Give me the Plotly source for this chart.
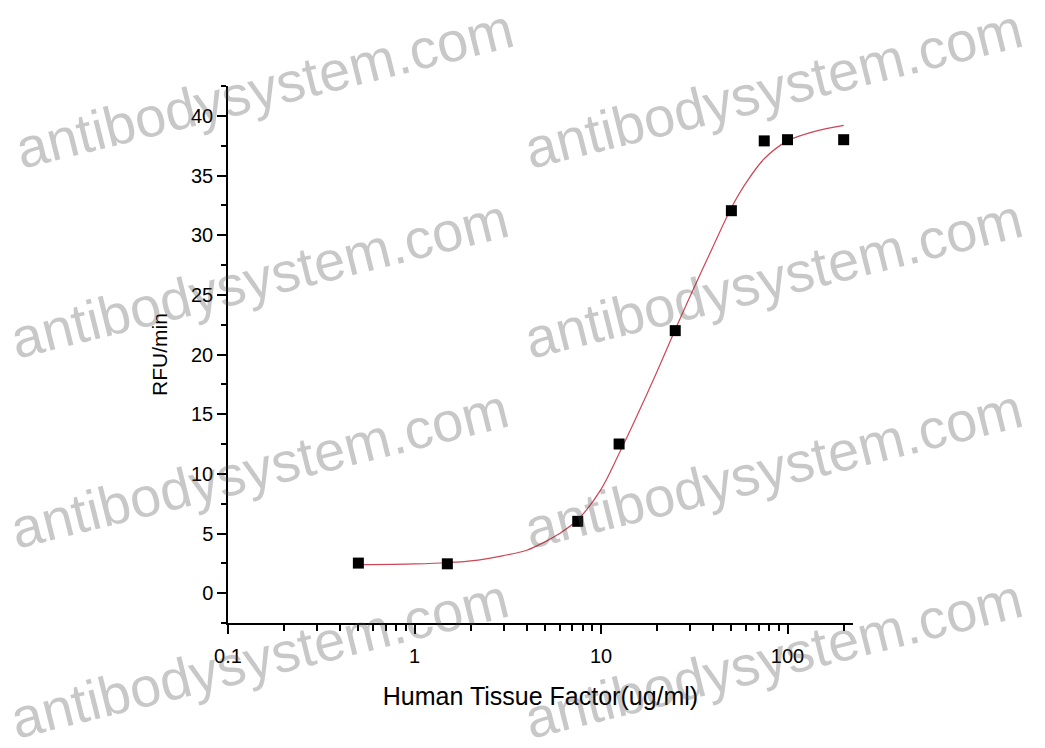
import plotly.graph_objects as go

# Measured data points
conc = [0.5, 1.5, 7.5, 12.5, 25, 50, 75, 100, 200]
rfu = [2.52, 2.46, 6.02, 12.5, 22.0, 32.05, 37.9, 38.0, 38.0]

# Fitted curve
fit_x = [0.5, 1.0, 1.5, 2.0, 3.0, 4.0, 5.0, 6.0, 7.5, 10, 12.5, 15, 20, 25, 30, 40, 50, 60, 75, 100, 140, 200]
fit_y = [2.38, 2.45, 2.55, 2.7, 3.15, 3.6, 4.3, 5.0, 6.15, 8.7, 11.7, 14.3, 18.6, 22.1, 24.85, 29.1, 32.3, 34.4, 36.4, 37.9, 38.7, 39.2]

x_major = [0.1, 1, 10, 100]
x_major_text = ["0.1", "1", "10", "100"]
x_minor = [0.2, 0.3, 0.4, 0.5, 0.6, 0.7, 0.8, 0.9,
           2, 3, 4, 5, 6, 7, 8, 9,
           20, 30, 40, 50, 60, 70, 80, 90, 200]

watermark = "antibodysystem.com"
wm_centers_px = [(264, 88), (773, 88), (259, 278), (773, 278),
                 (259, 468), (773, 468), (259, 658), (773, 658)]

W, H = 1045, 748
OFF = 8  # page body margin in the browser
L, R, T, B = 228 - OFF, 192 + OFF, 86 - OFF, 125 + OFF
PW, PH = W - L - R, H - T - B

FONT = "Liberation Sans, Arial, Helvetica, sans-serif"

fig = go.Figure()
fig.add_trace(go.Scatter(x=fit_x, y=fit_y, mode="lines",
                         line=dict(color="#cc4655", width=1.2, shape="spline", smoothing=0.9),
                         showlegend=False, hoverinfo="skip"))
fig.add_trace(go.Scatter(x=conc, y=rfu, mode="markers",
                         marker=dict(symbol="square", size=11, color="black"),
                         showlegend=False))

annotations = []
for cx, cy in wm_centers_px:
    cx -= OFF
    cy -= OFF
    annotations.append(dict(text=watermark, xref="paper", yref="paper",
                            x=(cx - L) / PW, y=(H - B - cy) / PH,
                            xanchor="center", yanchor="middle",
                            textangle=-14, showarrow=False,
                            font=dict(family=FONT, size=56, color="rgba(72,72,72,0.3)")))

fig.update_layout(
    width=W, height=H,
    margin=dict(l=L, r=R, t=T, b=B, pad=0),
    paper_bgcolor="white", plot_bgcolor="white",
    font=dict(family=FONT, color="black", size=20),
    annotations=annotations,
    xaxis=dict(type="log", range=[-1, 2.351],
               tickmode="array", tickvals=x_major, ticktext=x_major_text,
               ticks="outside", ticklen=9, tickwidth=1.5, tickcolor="black",
               showline=True, linecolor="black", linewidth=1.5,
               showgrid=False, zeroline=False,
               tickfont=dict(size=20), ticklabelstandoff=5,
               minor=dict(tickmode="array", tickvals=x_minor, ticks="outside",
                          ticklen=6, tickwidth=1.5, tickcolor="black", showgrid=False),
               title=dict(text="Human Tissue Factor(ug/ml)", font=dict(size=25), standoff=22)),
    yaxis=dict(range=[-2.5, 42.5], tickmode="linear", tick0=0, dtick=5,
               ticks="outside", ticklen=9, tickwidth=1.5, tickcolor="black",
               showline=True, linecolor="black", linewidth=1.5,
               showgrid=False, zeroline=False,
               tickfont=dict(size=20),
               minor=dict(dtick=2.5, tick0=0, ticks="outside", ticklen=5,
                          tickwidth=1.5, tickcolor="black", showgrid=False),
               title=dict(text="RFU/min", font=dict(size=21), standoff=18)),
)

fig.write_html("out.html")
